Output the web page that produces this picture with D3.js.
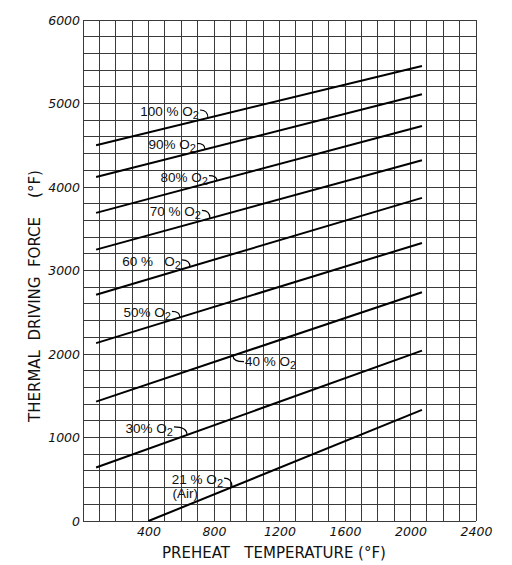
<!DOCTYPE html>
<html>
<head>
<meta charset="utf-8">
<script src="https://cdn.jsdelivr.net/npm/d3@7"></script>
<style>
body { margin: 0; background: #fff; }
text { font-family: "DejaVu Sans", sans-serif; fill: #111; }
.tk { font-style: italic; font-size: 12.5px; }
.lbl { font-family: "Liberation Sans", sans-serif; font-size: 13.5px; white-space: pre; }
.ttl { font-size: 15px; white-space: pre; }
</style>
</head>
<body>
<svg width="512" height="565"></svg>
<script>
// oxygen content of each curve, and its label
var oxygen = ["100", "90", "80", "70", "60", "50", "40", "30", "21"];
var labels = ["100 % O", "90% O", "80% O", "70 % O", "60 %   O", "50% O", "40 % O", "30% O", "21 % O"];
// preheat temperature (F) at the two ends of each line
var startF = [80, 80, 80, 80, 80, 80, 80, 80, 400];
var endF   = [2070, 2070, 2070, 2070, 2070, 2070, 2070, 2070, 2070];
// thermal driving force (F) at those ends
var startForce = [4500, 4120, 3690, 3250, 2710, 2130, 1430, 640, 0];
var endForce   = [5450, 5110, 4730, 4320, 3870, 3330, 2740, 2040, 1330];
// where the label hook touches each line (F)
var hookAt = [763, 745, 818, 775, 653, 592, 916, 635, 910];

var xTicks = [400, 800, 1200, 1600, 2000, 2400];
var yTicks = [0, 1000, 2000, 3000, 4000, 5000, 6000];

var svg = d3.select("svg");
var x = d3.scaleLinear().domain([0, 2400]).range([83, 476]);
var y = d3.scaleLinear().domain([0, 6000]).range([521, 20]);

// grid
var grid = svg.append("g").attr("stroke", "#3a3a3a").attr("stroke-width", 1).attr("shape-rendering", "crispEdges");
grid.selectAll(".v").data(d3.range(0, 2401, 100)).enter().append("line")
    .attr("x1", function(d) { return x(d); }).attr("x2", function(d) { return x(d); })
    .attr("y1", y(0)).attr("y2", y(6000));
grid.selectAll(".h").data(d3.range(0, 6001, 200)).enter().append("line")
    .attr("y1", function(d) { return y(d); }).attr("y2", function(d) { return y(d); })
    .attr("x1", x(0)).attr("x2", x(2400));

// axes
var ax = svg.append("g").attr("transform", "translate(0," + y(0) + ")")
    .call(d3.axisBottom(x).tickValues(xTicks).tickFormat(d3.format("d")).tickSize(0).tickPadding(4));
ax.select(".domain").remove();
ax.selectAll("text").attr("class", "tk").attr("dy", "0.9em");

var ay = svg.append("g").attr("transform", "translate(" + x(0) + ",0)")
    .call(d3.axisLeft(y).tickValues(yTicks).tickFormat(d3.format("d")).tickSize(0).tickPadding(3));
ay.select(".domain").remove();
ay.selectAll("text").attr("class", "tk");

// lines
var rows = oxygen.map(function(o, i) {
  return { o: o, label: labels[i], pts: [[startF[i], startForce[i]], [endF[i], endForce[i]]], at: hookAt[i] };
});
var line = d3.line().x(function(d) { return x(d[0]); }).y(function(d) { return y(d[1]); });

svg.selectAll(".curve").data(rows).enter().append("path")
   .attr("d", function(d) { return line(d.pts); })
   .attr("fill", "none").attr("stroke", "#000").attr("stroke-width", 2);

// labels with little hooks
function forceAt(d, t) {
  var a = d.pts[0], b = d.pts[1];
  return a[1] + (b[1] - a[1]) * (t - a[0]) / (b[0] - a[0]);
}
var dyOff = { "100": -2, "90": 0, "80": 1, "70": -2, "60": -1, "50": 0, "40": 10, "30": -2, "21": -3 };

rows.forEach(function(d) {
  var px = x(d.at), py = y(forceAt(d, d.at));
  var by = py + dyOff[d.o];
  var t, hook;
  if (d.o === "40") {
    t = svg.append("text").attr("class", "lbl").attr("x", px + 12).attr("y", by);
    hook = "M" + px + "," + py + "Q" + px + "," + (py + 6) + " " + (px + 11) + "," + (py + 6);
  } else {
    var gap = d.o === "30" ? 14 : 9;
    t = svg.append("text").attr("class", "lbl").attr("text-anchor", "end").attr("x", px - gap).attr("y", by);
    hook = "M" + (px - gap + 1) + "," + (by - 6) + "Q" + px + "," + (by - 6) + " " + px + "," + py;
  }
  t.append("tspan").text(d.label);
  t.append("tspan").attr("dy", 3).attr("font-size", "11px").text("2");
  svg.append("path").attr("d", hook).attr("fill", "none").attr("stroke", "#000").attr("stroke-width", 1.2);
  if (d.o === "21") {
    svg.append("text").attr("class", "lbl").attr("text-anchor", "end")
       .attr("x", px - 34).attr("y", by + 14).text("(Air)");
  }
});

// titles
svg.append("text").attr("class", "ttl").attr("x", 274).attr("y", 558).attr("text-anchor", "middle")
   .text("PREHEAT   TEMPERATURE (°F)");
svg.append("text").attr("class", "ttl").attr("text-anchor", "middle")
   .attr("transform", "translate(40,296) rotate(-90)")
   .text("THERMAL  DRIVING  FORCE    (°F)");
</script>
</body>
</html>
